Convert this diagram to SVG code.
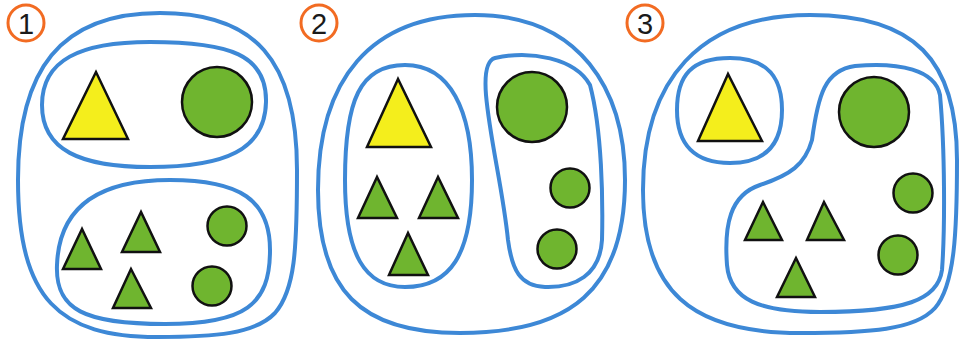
<svg xmlns="http://www.w3.org/2000/svg" width="961" height="342" viewBox="0 0 961 342">
<style>
.blob{fill:none;stroke:#3d88d6;stroke-width:4}
.lab{fill:#fff;stroke:#f26b22;stroke-width:3}
.num{font-family:"Liberation Sans",Arial,sans-serif;font-size:29px;fill:#1a1a1a;text-anchor:middle}
.yt{fill:#f4ee1c;stroke:#111;stroke-width:2.5}
.gt{fill:#6fb52f;stroke:#111;stroke-width:2.5}
.gc{fill:#6fb52f;stroke:#111;stroke-width:2.5}
</style>
<rect width="961" height="342" fill="#fff"/>
<g id="label1"><circle class="lab" cx="26" cy="23" r="18"/><text class="num" x="26" y="33.500">1</text></g>
<g id="label2"><circle class="lab" cx="319" cy="23" r="18"/><text class="num" x="319" y="33.500">2</text></g>
<g id="label3"><circle class="lab" cx="645" cy="23" r="18"/><text class="num" x="645" y="33.500">3</text></g>

<g id="panel1">
<path class="blob" d="M160 13 C255 13 297 60 297 170 C297 250 295 290 275 313 C255 334 215 337 157 337 C60 337 18 300 18 180 C18 70 60 13 160 13 Z"/>
<path class="blob" d="M150 42 C230 42 267 55 266 102 C265 150 225 167 150 167 C80 167 42 150 42 105 C42 60 80 42 150 42 Z"/>
<path class="blob" d="M170 180 C240 180 270 200 270 250 C270 305 245 324 165 324 C85 324 55 310 57 265 C59 210 95 180 170 180 Z"/>
<polygon class="yt" points="96,72 63,139 128,139"/>
<circle class="gc" cx="217" cy="102" r="35"/>
<polygon class="gt" points="82,229 63,269 101,269"/>
<polygon class="gt" points="141,212 122,252 160,252"/>
<polygon class="gt" points="131,269 113,308 151,308"/>
<circle class="gc" cx="227" cy="226" r="19.500"/>
<circle class="gc" cx="212" cy="286" r="19.500"/>
</g>

<g id="panel2">
<path class="blob" d="M475 15 C580 15 625 90 625 180 C625 290 570 333 460 333 C360 333 318 290 318 190 C318 80 370 15 475 15 Z"/>
<path class="blob" d="M405 65 C450 65 472 110 472 180 C472 255 450 287 405 287 C365 287 345 255 345 180 C345 100 360 65 405 65 Z"/>
<path class="blob" d="M495 58 C530 50 575 58 590 85 C602 130 603 200 602 240 C600 275 575 288 545 287 C520 286 512 270 508 240 C503 190 490 140 486 95 C484 70 488 60 495 58 Z"/>
<polygon class="yt" points="398,79 367,147 431,147"/>
<polygon class="gt" points="377,177 358,218 397,218"/>
<polygon class="gt" points="438,177 419,218 458,218"/>
<polygon class="gt" points="408,233 389,275 428,275"/>
<circle class="gc" cx="532" cy="107" r="35"/>
<circle class="gc" cx="570" cy="188" r="19.500"/>
<circle class="gc" cx="557" cy="249" r="19.500"/>
</g>

<g id="panel3">
<path class="blob" d="M810 15 C915 15 957 60 957 160 C957 230 955 285 935 308 C915 330 870 333 800 333 C690 333 643 290 643 190 C643 80 700 15 810 15 Z"/>
<path class="blob" d="M730 58 C770 58 782 80 782 110 C782 145 765 163 730 163 C695 163 677 145 677 110 C677 75 692 58 730 58 Z"/>
<path class="blob" d="M855 66 C900 62 935 70 940 95 C945 150 945 230 942 270 C938 300 905 312 820 312 C760 312 730 300 727 265 C724 225 730 195 760 185 C790 175 805 165 812 140 C818 95 825 70 855 66 Z"/>
<polygon class="yt" points="728,74 698,141 762,141"/>
<circle class="gc" cx="874" cy="112" r="35"/>
<circle class="gc" cx="913" cy="193" r="19.500"/>
<circle class="gc" cx="898" cy="255" r="19.500"/>
<polygon class="gt" points="763,202 745,240 782,240"/>
<polygon class="gt" points="824,202 807,240 844,240"/>
<polygon class="gt" points="796,258 777,297 815,297"/>
</g>
</svg>
